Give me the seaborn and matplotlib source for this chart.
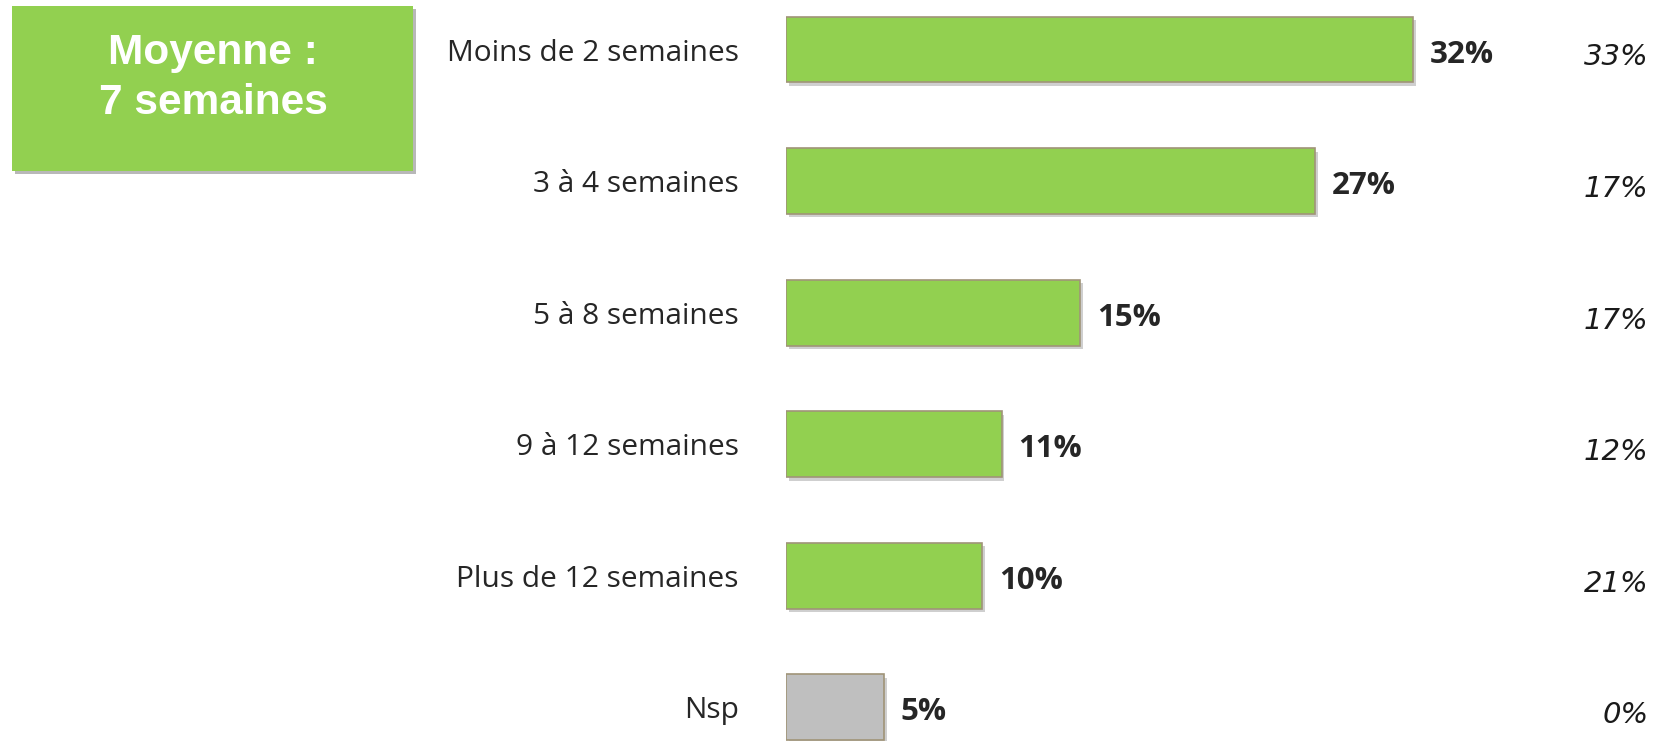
import numpy as np
import pandas as pd
import matplotlib
matplotlib.use('Agg')
import matplotlib.pyplot as plt
import matplotlib.patheffects as pe
from matplotlib.patches import Rectangle
from matplotlib.transforms import blended_transform_factory
import seaborn as sns

# données
categories = ['Moins de 2 semaines', '3 à 4 semaines', '5 à 8 semaines',
              '9 à 12 semaines', 'Plus de 12 semaines', 'Nsp']
valeurs = [32, 27, 15, 11, 10, 5]
valeurs_precedentes = [33, 17, 17, 12, 21, 0]
couleurs = ['#92D050', '#92D050', '#92D050', '#92D050', '#92D050', '#BFBFBF']
moyenne_texte = 'Moyenne :\n7 semaines'

sns.set_theme(style='white')
plt.rcParams['font.family'] = ['Open Sans', 'DejaVu Sans']

df = pd.DataFrame({'categorie': categories, 'valeur': valeurs})

fig = plt.figure(figsize=(16.55, 7.41), dpi=100)
ax = fig.add_axes([0.475, 0.0, 0.521, 1.0])

sns.barplot(data=df, y='categorie', x='valeur', hue='categorie',
            palette=dict(zip(categories, couleurs)), order=categories,
            orient='h', width=0.5, legend=False, ax=ax, saturation=1,
            edgecolor='#A09478', linewidth=1.2)

ombre = [pe.SimplePatchShadow(offset=(2, -2.5), shadow_rgbFace='#a0a0a0', alpha=0.5), pe.Normal()]
for barre in ax.patches:
    barre.set_path_effects(ombre)

ax.set_xlim(0, 44)
ax.set_ylim(5.257, -0.377)
ax.set_xlabel('')
ax.set_ylabel('')
ax.set_xticks([])
sns.despine(ax=ax, left=True, bottom=True)
ax.tick_params(axis='y', length=0, pad=34, labelsize=21.5, labelcolor='#262626')

# étiquettes de valeurs
for i, v in enumerate(valeurs):
    ax.text(v + 0.85, i + 0.04, f'{v}%', va='center', ha='left', fontsize=22.5,
            fontweight='bold', color='#262626')

# colonne de droite (vague précédente)
trans = blended_transform_factory(fig.transFigure, ax.transData)
for i, v in enumerate(valeurs_precedentes):
    ax.text(0.996, i + 0.06, f'{v}%', va='center', ha='right', fontsize=21,
            fontstyle='italic', family='DejaVu Sans', color='#1a1a1a',
            transform=trans, clip_on=False)

# encadré moyenne
fig.patches.append(Rectangle((15 / 1655, 1 - 174 / 741), 401 / 1655, 165 / 741,
                             transform=fig.transFigure, facecolor='#A6A6A6',
                             edgecolor='none', alpha=0.8, zorder=1))
fig.patches.append(Rectangle((12 / 1655, 1 - 171 / 741), 401 / 1655, 165 / 741,
                             transform=fig.transFigure, facecolor='#92D050',
                             edgecolor='none', zorder=2))
fig.text(213 / 1655, 1 - 78 / 741, moyenne_texte, ha='center', va='center',
         fontsize=30.5, fontweight='bold', color='white', family='Liberation Sans',
         linespacing=1.3, zorder=3)

fig.savefig('out.png', dpi=100)
